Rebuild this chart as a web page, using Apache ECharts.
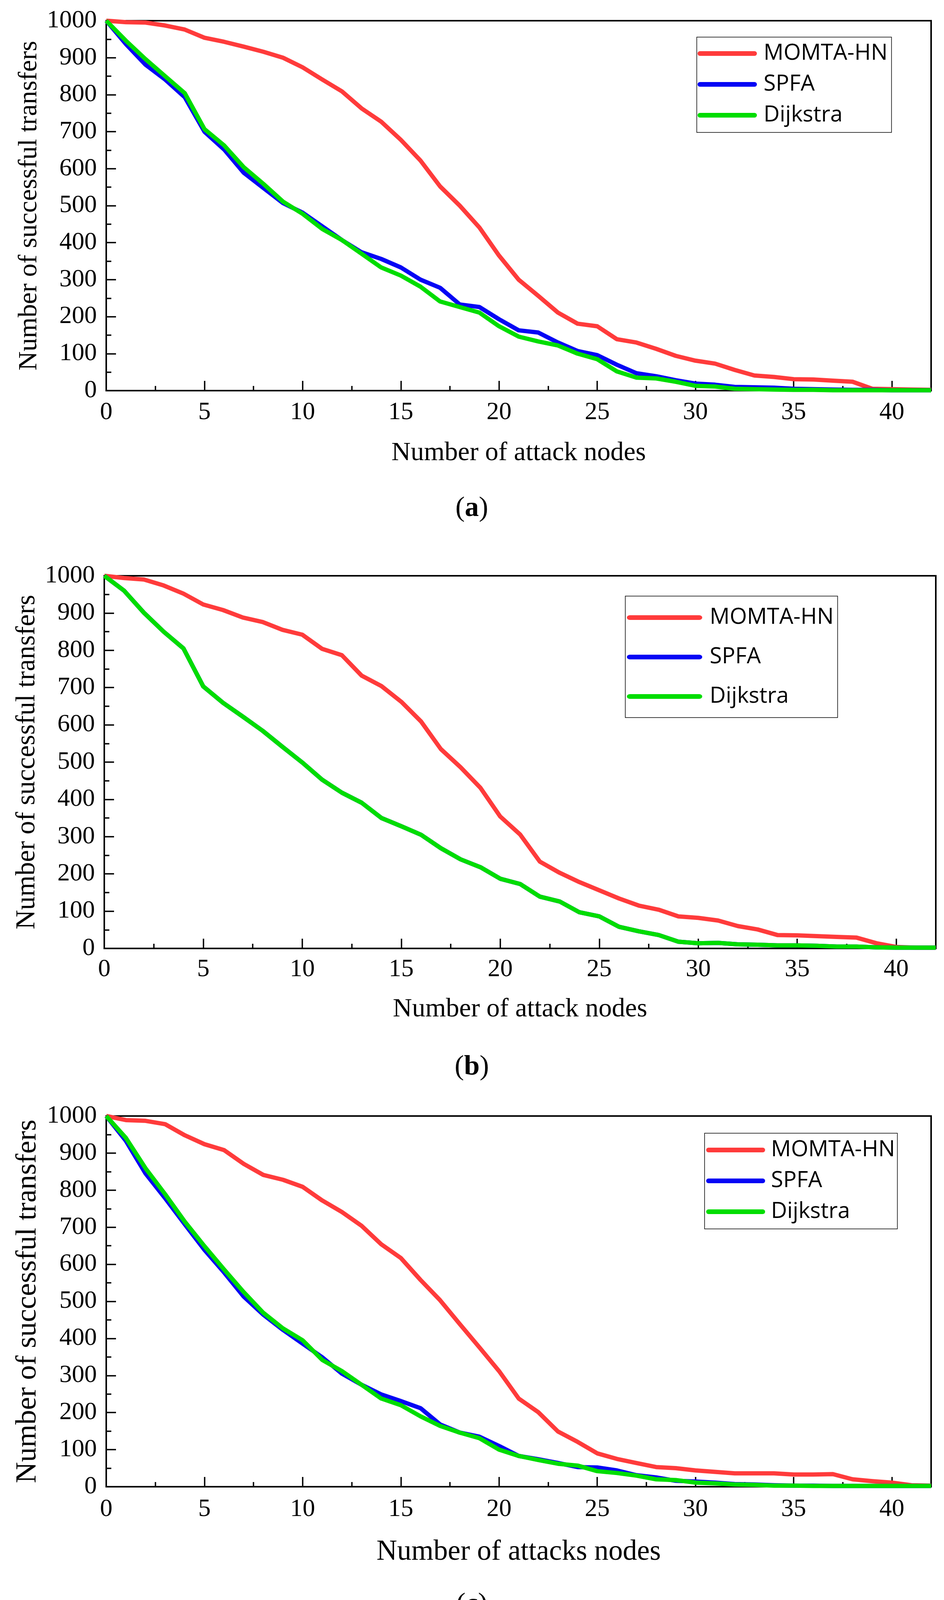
<!DOCTYPE html>
<html>
<head>
<meta charset="utf-8">
<title>Successful transfers vs attack nodes</title>
<script src="https://cdn.jsdelivr.net/npm/echarts@6.0.0/dist/echarts.min.js"></script>
<style>
  html, body { margin: 0; padding: 0; background: #fff; }
  #chart { width: 2417px; height: 4176px; }
</style>
</head>
<body>
<div id="chart"></div>
<script>
// x positions (number of attack nodes)
var xNodes = [0, 1, 2, 3, 4, 5, 6, 7, 8, 9, 10, 11, 12, 13, 14, 15, 16, 17, 18, 19, 20,
  21, 22, 23, 24, 25, 26, 27, 28, 29, 30, 31, 32, 33, 34, 35, 36, 37, 38, 39, 40, 41, 42];
var xTicks = [0, 5, 10, 15, 20, 25, 30, 35, 40];
var yTicks = [0, 100, 200, 300, 400, 500, 600, 700, 800, 900, 1000];
var seriesNames = ['MOMTA-HN', 'SPFA', 'Dijkstra'];
var panelTags = ['a', 'b', 'c'];
var xTitles = ['Number of attack nodes', 'Number of attack nodes', 'Number of attacks nodes'];
var yTitle = 'Number of successful transfers';

// (a)
var momtaA = [1000, 996, 995, 987, 976, 954, 943, 930, 916, 900, 874, 841, 809, 763, 727, 678, 622, 552, 500, 441, 365,
  300, 256, 211, 181, 174, 139, 130, 113, 94, 81, 73, 56, 41, 37, 31, 30, 27, 24, 5, 4, 3, 2];
var spfaA = [1000, 937, 881, 841, 793, 700, 652, 589, 548, 507, 481, 444, 407, 374, 356, 333, 300, 278, 233, 226, 193,
  163, 157, 130, 107, 96, 70, 47, 39, 28, 19, 16, 10, 9, 8, 5, 4, 3, 2, 2, 1, 1, 1];
var dijkstraA = [1000, 946, 896, 850, 804, 707, 663, 604, 559, 511, 478, 437, 407, 370, 333, 311, 281, 241, 226, 211, 174,
  146, 133, 122, 100, 85, 52, 35, 33, 24, 13, 11, 5, 4, 3, 2, 2, 1, 1, 1, 1, 1, 1];
// (b)  SPFA lies exactly under Dijkstra
var momtaB = [1000, 994, 990, 974, 952, 923, 908, 888, 876, 855, 842, 804, 787, 732, 704, 662, 609, 535, 486, 431, 354,
  306, 233, 203, 178, 156, 134, 115, 104, 86, 82, 75, 60, 51, 36, 35, 33, 31, 29, 14, 4, 2, 2];
var spfaB = [1000, 960, 901, 850, 805, 703, 659, 622, 584, 541, 499, 453, 418, 391, 350, 328, 305, 269, 239, 218, 187,
  173, 139, 126, 97, 86, 58, 46, 36, 18, 14, 15, 11, 10, 8, 8, 7, 5, 5, 3, 2, 2, 2];
var dijkstraB = [1000, 960, 901, 850, 805, 703, 659, 622, 584, 541, 499, 453, 418, 391, 350, 328, 305, 269, 239, 218, 187,
  173, 139, 126, 97, 86, 58, 46, 36, 18, 14, 15, 11, 10, 8, 8, 7, 5, 5, 3, 2, 2, 2];
// (c)
var momtaC = [1000, 989, 987, 978, 948, 924, 908, 871, 841, 828, 809, 772, 741, 704, 654, 617, 558, 503, 439, 376, 312,
  238, 201, 149, 121, 90, 75, 64, 53, 50, 44, 40, 36, 36, 36, 33, 33, 34, 20, 15, 11, 4, 3];
var spfaC = [1000, 933, 845, 778, 708, 639, 578, 513, 464, 423, 386, 349, 305, 275, 249, 231, 212, 168, 146, 135, 110,
  83, 74, 64, 53, 52, 44, 31, 25, 16, 14, 11, 7, 6, 4, 3, 3, 2, 2, 2, 2, 2, 2];
var dijkstraC = [1000, 941, 859, 789, 715, 649, 586, 525, 469, 427, 395, 342, 312, 275, 238, 220, 190, 164, 146, 131, 100,
  83, 72, 62, 57, 42, 37, 30, 20, 18, 11, 9, 6, 5, 3, 3, 2, 2, 2, 2, 2, 2, 2];

var panelData = [
  [momtaA, spfaA, dijkstraA],
  [momtaB, spfaB, dijkstraB],
  [momtaC, spfaC, dijkstraC]
];

var colors = ['#ff3b3b', '#0505f5', '#00dd00'];
var serif = 'Liberation Serif';
var sans = 'Open Sans';
// stadium shaped legend swatch (thick line with round caps)
var swatch = 'path://M6,0 L146,0 A6,6 0 0 1 146,12 L6,12 A6,6 0 0 1 6,0 Z';

var layout = [
  { left: 272, top: 53, width: 2112, height: 947, labelMargin: 24, xNameGap: 126, yNameGap: 160, xNameSize: 68, yNameSize: 68,
    legend: { left: 1784, top: 95, padding: [9, 10, 11, 2], itemWidth: 152, itemGap: 13, textPad: 12 }, tagY: 1302 },
  { left: 267, top: 1474, width: 2129, height: 954, labelMargin: 22, xNameGap: 122, yNameGap: 158, xNameSize: 68, yNameSize: 69,
    legend: { left: 1601, top: 1526, padding: [22, 10, 21, 4], itemWidth: 193, itemGap: 35, textPad: 14 }, tagY: 2732 },
  { left: 272, top: 2857, width: 2112, height: 949, labelMargin: 26, xNameGap: 131, yNameGap: 162, xNameSize: 73, yNameSize: 75,
    legend: { left: 1804, top: 2901, padding: [10, 6, 11, 4], itemWidth: 151, itemGap: 13, textPad: 10 }, tagY: 4108 }
];

function pairs(vals) {
  return xNodes.map(function (x, i) { return [x, vals[i]]; });
}

var grids = [], xAxes = [], yAxes = [], series = [], legends = [], graphics = [];

layout.forEach(function (L, p) {
  grids.push({
    left: L.left, top: L.top, width: L.width, height: L.height,
    show: true, borderColor: '#000', borderWidth: 4, backgroundColor: 'transparent'
  });
  xAxes.push({
    type: 'value', gridIndex: p, min: 0, max: 42, interval: 5,
    name: xTitles[p], nameLocation: 'middle', nameGap: L.xNameGap,
    nameTextStyle: { fontFamily: serif, fontSize: L.xNameSize, color: '#000' },
    axisLine: { show: true, onZero: false, lineStyle: { color: '#000', width: 4 } },
    axisTick: { show: true, inside: true, length: 25, lineStyle: { color: '#000', width: 3.5 } },
    minorTick: { show: true, splitNumber: 2, length: 12, lineStyle: { color: '#000', width: 3.5 } },
    splitLine: { show: false },
    axisLabel: {
      margin: L.labelMargin, fontFamily: serif, fontSize: 64, color: '#000',
      formatter: function (v) { return xTicks.indexOf(v) >= 0 ? String(v) : ''; }
    }
  });
  yAxes.push({
    type: 'value', gridIndex: p, min: 0, max: 1000, interval: 100,
    name: yTitle, nameLocation: 'middle', nameGap: L.yNameGap,
    nameTextStyle: { fontFamily: serif, fontSize: L.yNameSize, color: '#000' },
    axisLine: { show: true, onZero: false, lineStyle: { color: '#000', width: 4 } },
    axisTick: { show: true, inside: true, length: 25, lineStyle: { color: '#000', width: 3.5 } },
    minorTick: { show: true, splitNumber: 2, length: 13, lineStyle: { color: '#000', width: 3.5 } },
    splitLine: { show: false },
    axisLabel: {
      margin: 24, fontFamily: serif, fontSize: 64, color: '#000',
      formatter: function (v) { return yTicks.indexOf(v) >= 0 ? String(v) : ''; }
    }
  });
  seriesNames.forEach(function (name, s) {
    series.push({
      name: name, type: 'line', xAxisIndex: p, yAxisIndex: p,
      data: pairs(panelData[p][s]),
      symbol: 'none', showSymbol: false, animation: false,
      lineStyle: { width: 11, color: colors[s], join: 'round' },
      itemStyle: { color: colors[s] },
      z: 2 + s
    });
  });
  legends.push({
    orient: 'vertical', left: L.legend.left, top: L.legend.top,
    padding: L.legend.padding, itemWidth: L.legend.itemWidth, itemHeight: 12, itemGap: L.legend.itemGap,
    icon: swatch, symbolKeepAspect: false,
    borderColor: '#000', borderWidth: 1.5, backgroundColor: '#fff',
    textStyle: { fontFamily: sans, fontSize: 57, color: '#000', lineHeight: 66, padding: [0, 0, 0, L.legend.textPad] },
    selectedMode: false,
    data: seriesNames
  });
  graphics.push({
    type: 'text', x: 1208, y: L.tagY,
    style: {
      text: '{p|(}{b|' + panelTags[p] + '}{p|)}',
      textAlign: 'center', textVerticalAlign: 'middle',
      rich: {
        p: { fontFamily: serif, fontSize: 72, fill: '#000' },
        b: { fontFamily: serif, fontSize: 72, fontWeight: 'bold', fill: '#000' }
      }
    }
  });
});

var chart = echarts.init(document.getElementById('chart'));
chart.setOption({
  backgroundColor: '#fff',
  animation: false,
  grid: grids,
  xAxis: xAxes,
  yAxis: yAxes,
  legend: legends,
  series: series,
  graphic: graphics
});
</script>
</body>
</html>
